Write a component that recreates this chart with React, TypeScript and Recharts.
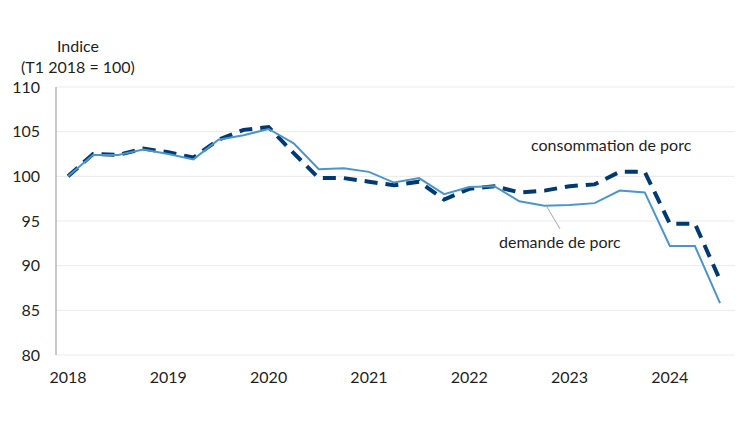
import { CartesianGrid, Customized, Line, LineChart, XAxis, YAxis } from "recharts";

const quarters = [
  "T1 2018", "T2 2018", "T3 2018", "T4 2018",
  "T1 2019", "T2 2019", "T3 2019", "T4 2019",
  "T1 2020", "T2 2020", "T3 2020", "T4 2020",
  "T1 2021", "T2 2021", "T3 2021", "T4 2021",
  "T1 2022", "T2 2022", "T3 2022", "T4 2022",
  "T1 2023", "T2 2023", "T3 2023", "T4 2023",
  "T1 2024", "T2 2024", "T3 2024",
];

// demande de porc (trait plein)
const demande = [
  100.0, 102.4, 102.4, 103.0, 102.5, 101.9, 104.1, 104.6, 105.3, 103.7, 100.8, 100.9, 100.5,
  99.3, 99.8, 98.0, 98.8, 98.9, 97.2, 96.7, 96.8, 97.0, 98.4, 98.2, 92.2, 92.2, 85.8,
];

// consommation de porc (tirets)
const consommation = [
  100.0, 102.5, 102.4, 103.1, 102.7, 102.1, 104.1, 105.2, 105.5, 102.6, 99.8, 99.8, 99.4,
  99.0, 99.4, 97.4, 98.6, 98.9, 98.2, 98.4, 98.9, 99.1, 100.5, 100.5, 94.7, 94.7, 88.4,
];

const yTicks = [80, 85, 90, 95, 100, 105, 110];

const data = quarters.map((q, i) => ({
  q,
  demande: demande[i],
  consommation: consommation[i],
}));

const FONT = "Lato, 'Open Sans', sans-serif";
const TEXT = "#1F1F1F";

const Annotations = (
  <g fontFamily={FONT} fill={TEXT}>
    <text x={78} y={52} textAnchor="middle" fontSize={16}>
      Indice
    </text>
    <text x={78} y={73} textAnchor="middle" fontSize={16}>
      (T1 2018 = 100)
    </text>
    <text x={531} y={151} fontSize={16}>
      consommation de porc
    </text>
    <line x1={547} y1={207} x2={560} y2={229} stroke="#A6A6A6" strokeWidth={1} />
    <text x={499} y={248} fontSize={16}>
      demande de porc
    </text>
  </g>
);

export default function App() {
  return (
    <div style={{ position: "absolute", left: 0, top: 0, width: 750, height: 422, background: "#fff" }}>
      <LineChart
        width={750}
        height={422}
        data={data}
        margin={{ top: 87, right: 15, bottom: 37, left: 0 }}
      >
        <CartesianGrid vertical={false} stroke="#EBEBEB" strokeWidth={1} />
        <XAxis
          dataKey="q"
          height={30}
          interval={3}
          padding={{ left: 12, right: 15 }}
          tickFormatter={(v: string) => v.slice(3)}
          axisLine={false}
          tickLine={false}
          tickMargin={11}
          tick={{ fontSize: 16, fill: TEXT, fontFamily: FONT }}
        />
        <YAxis
          width={56}
          domain={[80, 110]}
          ticks={yTicks}
          interval={0}
          axisLine={{ stroke: "#A6A6A6", strokeWidth: 1.2 }}
          tickLine={false}
          tickMargin={10}
          tick={{ fontSize: 16, fill: TEXT, fontFamily: FONT }}
        />
        <Line
          type="linear"
          dataKey="consommation"
          stroke="#003A70"
          strokeWidth={4}
          strokeDasharray="13 8"
          dot={false}
          activeDot={false}
          isAnimationActive={false}
        />
        <Line
          type="linear"
          dataKey="demande"
          stroke="#4A95CE"
          strokeWidth={2}
          dot={false}
          activeDot={false}
          isAnimationActive={false}
        />
        <Customized component={Annotations} />
      </LineChart>
    </div>
  );
}
